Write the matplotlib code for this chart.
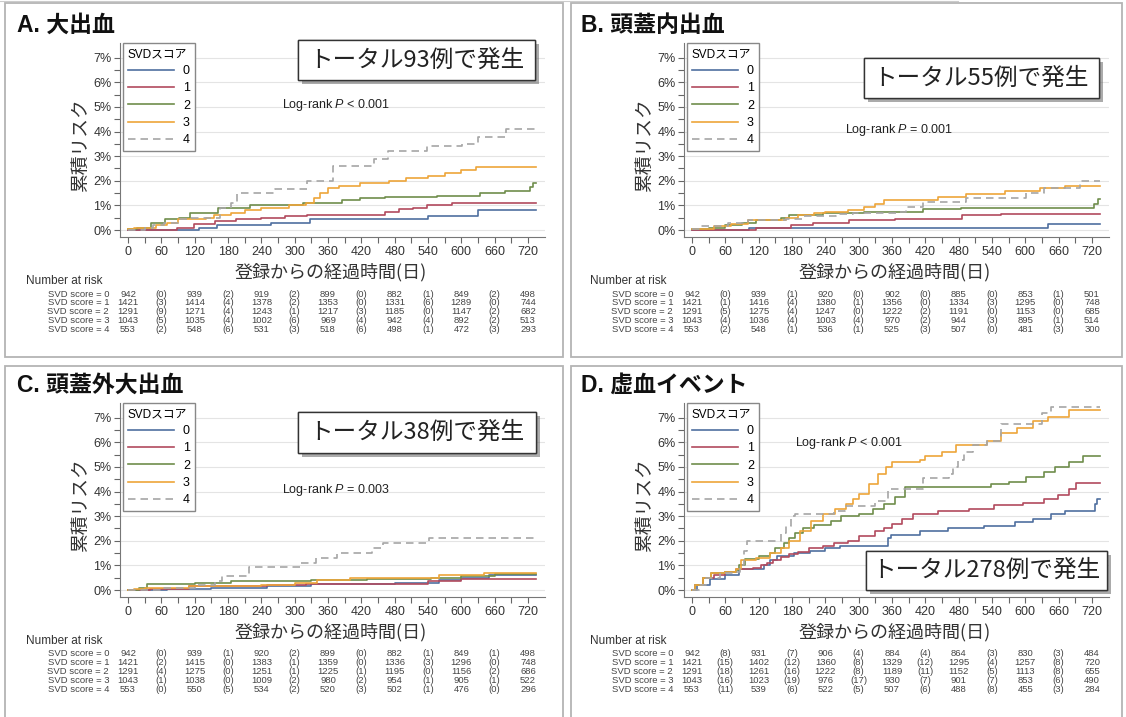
import matplotlib
matplotlib.use('Agg')
from matplotlib import pyplot as plt
from matplotlib import patheffects as pe
from matplotlib.patches import Rectangle
from matplotlib.lines import Line2D
from matplotlib.transforms import blended_transform_factory

plt.rcParams['font.family'] = ['Liberation Sans', 'Noto Sans CJK JP']
plt.rcParams['mathtext.fontset'] = 'custom'
plt.rcParams['mathtext.rm'] = 'Liberation Sans'
plt.rcParams['mathtext.it'] = 'Liberation Sans:italic'

W, H = 1126, 717

scores = ['0', '1', '2', '3', '4']
colors = ['#4f6f9f', '#b24a5e', '#6f8d4c', '#eda53a', '#a6a6a6']
risk_days = [0, 120, 240, 360, 480, 600, 720]
event_days = [60, 180, 300, 420, 540, 660]

# cumulative risk (%) step curves, (day, risk) per SVD score
a_svd0 = [(0, 0), (127, 0.1), (160, 0.2), (258, 0.3), (328, 0.45), (540, 0.55), (630, 0.8), (735, 0.8)]
a_svd1 = [(0, 0), (89, 0.1), (118, 0.25), (156, 0.35), (194, 0.45), (239, 0.5), (283, 0.55), (322, 0.6),
          (462, 0.75), (487, 0.85), (513, 0.9), (538, 1.0), (583, 1.1), (735, 1.1)]
a_svd2 = [(0, 0.05), (16, 0.1), (41, 0.3), (67, 0.45), (92, 0.5), (111, 0.7), (162, 0.9), (220, 1.0),
          (315, 1.1), (385, 1.2), (417, 1.3), (462, 1.35), (557, 1.4), (634, 1.5), (678, 1.6),
          (723, 1.75), (729, 1.9), (735, 1.9)]
a_svd3 = [(0, 0.05), (10, 0.1), (50, 0.2), (70, 0.3), (90, 0.45), (140, 0.5), (155, 0.6), (185, 0.7),
          (210, 0.8), (240, 0.9), (290, 1.0), (320, 1.1), (334, 1.3), (345, 1.5), (360, 1.7),
          (379, 1.8), (417, 1.9), (470, 2.0), (500, 2.1), (540, 2.2), (570, 2.3), (600, 2.45),
          (626, 2.55), (735, 2.55)]
a_svd4 = [(0, 0), (30, 0.1), (45, 0.2), (65, 0.3), (90, 0.45), (110, 0.5), (165, 0.9), (185, 1.1),
          (197, 1.5), (264, 1.65), (322, 2.0), (369, 2.6), (443, 2.9), (468, 3.2), (538, 3.4),
          (602, 3.5), (630, 3.8), (681, 4.1), (735, 4.1)]

b_svd0 = [(0, 0), (102, 0.1), (640, 0.25), (735, 0.25)]
b_svd1 = [(0, 0), (115, 0.1), (179, 0.2), (218, 0.3), (282, 0.4), (365, 0.45), (486, 0.6), (557, 0.65),
          (735, 0.65)]
b_svd2 = [(0, 0.05), (30, 0.1), (60, 0.2), (90, 0.3), (115, 0.4), (160, 0.5), (175, 0.6), (235, 0.7),
          (310, 0.75), (415, 0.85), (485, 0.9), (723, 1.05), (730, 1.25), (735, 1.25)]
b_svd3 = [(0, 0.05), (40, 0.15), (70, 0.25), (100, 0.4), (170, 0.5), (190, 0.6), (220, 0.7), (240, 0.75),
          (280, 0.8), (310, 0.95), (330, 1.05), (345, 1.2), (442, 1.35), (493, 1.45), (563, 1.6),
          (627, 1.7), (672, 1.8), (735, 1.8)]
b_svd4 = [(0, 0.05), (15, 0.15), (65, 0.3), (100, 0.4), (170, 0.45), (200, 0.55), (260, 0.65), (290, 0.7),
          (370, 0.75), (385, 0.95), (416, 1.15), (493, 1.3), (602, 1.5), (634, 1.7), (698, 2.0), (735, 2.0)]

c_svd0 = [(0, 0), (70, 0.05), (150, 0.1), (250, 0.15), (330, 0.25), (480, 0.3), (560, 0.4), (600, 0.5),
          (650, 0.6), (735, 0.6)]
c_svd1 = [(0, 0), (40, 0.05), (110, 0.15), (250, 0.2), (320, 0.25), (540, 0.35), (600, 0.45), (735, 0.45)]
c_svd2 = [(0, 0), (20, 0.1), (35, 0.25), (120, 0.3), (185, 0.35), (330, 0.4), (430, 0.45), (545, 0.5),
          (600, 0.55), (660, 0.65), (735, 0.65)]
c_svd3 = [(0, 0), (10, 0.05), (30, 0.1), (110, 0.15), (240, 0.2), (300, 0.3), (340, 0.4), (400, 0.5),
          (560, 0.6), (640, 0.7), (735, 0.7)]
c_svd4 = [(0, 0), (60, 0.1), (120, 0.2), (156, 0.35), (169, 0.55), (217, 0.95), (309, 1.1), (338, 1.3),
          (376, 1.5), (440, 1.7), (459, 1.9), (541, 2.1), (735, 2.1)]

d_svd0 = [(0, 0), (9, 0.2), (33, 0.45), (60, 0.6), (84, 0.85), (129, 1.0), (140, 1.2), (153, 1.4),
          (183, 1.5), (213, 1.6), (240, 1.7), (267, 1.8), (352, 2.1), (358, 2.25), (410, 2.4),
          (461, 2.5), (525, 2.6), (582, 2.75), (614, 2.9), (646, 3.1), (672, 3.2), (725, 3.5),
          (729, 3.7), (735, 3.7)]
d_svd1 = [(0, 0), (5, 0.2), (20, 0.5), (40, 0.6), (60, 0.75), (80, 0.85), (110, 0.9), (125, 1.0),
          (135, 1.1), (145, 1.2), (160, 1.35), (175, 1.45), (190, 1.55), (210, 1.7), (235, 1.8),
          (255, 1.9), (280, 2.0), (300, 2.2), (330, 2.4), (345, 2.5), (360, 2.7), (378, 2.9),
          (397, 3.1), (442, 3.2), (499, 3.3), (544, 3.45), (595, 3.55), (634, 3.7), (659, 3.85),
          (678, 4.1), (691, 4.35), (735, 4.35)]
d_svd2 = [(0, 0), (5, 0.2), (20, 0.5), (35, 0.7), (60, 0.75), (80, 0.8), (85, 1.0), (95, 1.25),
          (120, 1.4), (140, 1.5), (150, 1.7), (165, 1.9), (175, 2.1), (185, 2.3), (200, 2.5),
          (220, 2.65), (250, 2.8), (269, 3.0), (300, 3.1), (326, 3.3), (345, 3.5), (365, 3.8),
          (384, 4.2), (538, 4.3), (570, 4.4), (602, 4.6), (634, 4.8), (653, 5.0), (678, 5.2),
          (704, 5.45), (735, 5.45)]
d_svd3 = [(0, 0), (5, 0.2), (20, 0.5), (35, 0.7), (60, 0.75), (80, 0.85), (88, 1.2), (115, 1.3),
          (140, 1.5), (160, 1.7), (175, 2.0), (195, 2.4), (215, 2.8), (235, 3.1), (258, 3.3),
          (278, 3.5), (290, 3.7), (300, 3.9), (318, 4.3), (335, 4.7), (350, 5.0), (360, 5.2),
          (410, 5.3), (420, 5.45), (450, 5.6), (475, 5.9), (531, 6.05), (557, 6.4), (585, 6.6),
          (614, 6.85), (640, 7.05), (678, 7.3), (735, 7.3)]
d_svd4 = [(0, 0), (12, 0.2), (25, 0.5), (50, 0.7), (75, 0.75), (87, 1.0), (93, 1.6), (99, 2.0),
          (160, 2.3), (170, 2.6), (178, 3.0), (185, 3.1), (255, 3.2), (275, 3.4), (330, 3.6),
          (352, 4.1), (416, 4.55), (462, 4.7), (470, 5.0), (478, 5.3), (490, 5.6), (506, 5.9),
          (531, 6.05), (557, 6.75), (630, 7.2), (646, 7.45), (735, 7.45)]

# number at risk and events in each interval (rows = SVD score 0..4)
a_at_risk = [[942, 939, 919, 899, 882, 849, 498],
             [1421, 1414, 1378, 1353, 1331, 1289, 744],
             [1291, 1271, 1243, 1217, 1185, 1147, 682],
             [1043, 1035, 1002, 969, 942, 892, 513],
             [553, 548, 531, 518, 498, 472, 293]]
a_events = [[0, 2, 2, 0, 1, 2], [3, 4, 2, 0, 6, 0], [9, 4, 1, 3, 0, 2], [5, 4, 6, 4, 4, 2], [2, 6, 3, 6, 1, 3]]

b_at_risk = [[942, 939, 920, 902, 885, 853, 501],
             [1421, 1416, 1380, 1356, 1334, 1295, 748],
             [1291, 1275, 1247, 1222, 1191, 1153, 685],
             [1043, 1036, 1003, 970, 944, 895, 514],
             [553, 548, 536, 525, 507, 481, 300]]
b_events = [[0, 1, 0, 0, 0, 1], [1, 4, 1, 0, 3, 0], [5, 4, 0, 2, 0, 0], [4, 4, 4, 2, 3, 1], [2, 1, 1, 3, 0, 3]]

c_at_risk = [[942, 939, 920, 899, 882, 849, 498],
             [1421, 1415, 1383, 1359, 1336, 1296, 748],
             [1291, 1275, 1251, 1225, 1195, 1156, 686],
             [1043, 1038, 1009, 980, 954, 905, 522],
             [553, 550, 534, 520, 502, 476, 296]]
c_events = [[0, 1, 2, 0, 1, 1], [2, 0, 1, 0, 3, 0], [4, 0, 1, 1, 0, 2], [1, 0, 2, 2, 1, 1], [0, 5, 2, 3, 1, 0]]

d_at_risk = [[942, 931, 906, 884, 864, 830, 484],
             [1421, 1402, 1360, 1329, 1295, 1257, 720],
             [1291, 1261, 1222, 1189, 1152, 1113, 655],
             [1043, 1023, 976, 930, 901, 853, 490],
             [553, 539, 522, 507, 488, 455, 284]]
d_events = [[8, 7, 4, 4, 3, 3], [15, 12, 8, 12, 4, 8], [18, 16, 8, 11, 5, 8],
            [16, 19, 17, 7, 7, 6], [11, 6, 5, 6, 8, 3]]

titles = ['A. 大出血', 'B. 頭蓋内出血', 'C. 頭蓋外大出血', 'D. 虚血イベント']
totals = ['トータル93例で発生', 'トータル55例で発生', 'トータル38例で発生', 'トータル278例で発生']
logranks = ['Log-rank $P$ < 0.001', 'Log-rank $P$ = 0.001', 'Log-rank $P$ = 0.003', 'Log-rank $P$ < 0.001']

CJK = ['Noto Sans CJK JP', 'DejaVu Sans']
DASH = (0, (4.5, 3))


def fx(x):
    return x / W


def fy(y):
    return 1 - y / H


def draw_panel(fig, ox, oy, title, curves, at_risk, events, logrank, lr_xy, total, box):
    # axes: day 0 at x=128, 0.5556 px/day; 0% at y=230, 24.6 px per %
    ax = fig.add_axes([fx(ox + 120), fy(oy + 237.4), 424.7 / W, 194.4 / H])
    for k, pts in enumerate(curves):
        t = [p[0] for p in pts]
        r = [p[1] for p in pts]
        ax.step(t, r, where='post', color=colors[k], lw=1.2, ls=DASH if k == 4 else '-', zorder=3)
    ax.set_xlim(-14.4, 750)
    ax.set_ylim(-0.3, 7.6)
    ax.set_xticks(range(0, 721, 60))
    ax.set_xticks(range(30, 721, 60), minor=True)
    ax.set_yticks(range(0, 8))
    ax.set_yticklabels([f'{i}%' for i in range(8)])
    ax.set_yticks([i + 0.5 for i in range(0, 7)], minor=True)
    ax.tick_params(which='both', direction='out', length=4, width=0.8, color='#666',
                   labelsize=9, labelcolor='#333', pad=2)
    for s in ['top', 'right']:
        ax.spines[s].set_visible(False)
    for s in ['left', 'bottom']:
        ax.spines[s].set_color('#777')
        ax.spines[s].set_linewidth(0.8)
    ax.yaxis.grid(True, color='#e4e4e4', lw=0.8)
    ax.set_axisbelow(True)
    ax.patch.set_alpha(0)

    handles = [Line2D([], [], color=colors[k], lw=1.2, ls=DASH if k == 4 else '-') for k in range(5)]
    leg = ax.legend(handles, scores, title='SVDスコア', loc='upper left', bbox_to_anchor=(0.007, 1.0),
                    borderaxespad=0, fancybox=False, edgecolor='#888', framealpha=1, fontsize=9,
                    title_fontsize=8.5, handlelength=3.7, handletextpad=0.7, labelspacing=0.42,
                    borderpad=0.4, alignment='left')
    leg.get_frame().set_linewidth(1.0)

    ax.text(lr_xy[0], lr_xy[1], logrank, fontsize=9, color='#222', va='center', ha='left')

    # headline box with drop shadow
    bx, by, bw, bh = box
    rect = Rectangle((fx(ox + bx), fy(oy + by + bh)), bw / W, bh / H, transform=fig.transFigure,
                     fc='white', ec='#333', lw=1.0, zorder=5,
                     path_effects=[pe.withSimplePatchShadow(offset=(3, -3), shadow_rgbFace='#666', alpha=0.55),
                                   pe.Normal()])
    fig.add_artist(rect)
    fig.text(fx(ox + bx + bw / 2), fy(oy + by + bh / 2), total, fontsize=17, family=CJK,
             color='#222', ha='center', va='center', zorder=6)

    fig.text(fx(ox + 17), fy(oy + 25), title, fontsize=16.5, fontweight='bold', va='center', color='#111')
    fig.text(fx(ox + 80), fy(oy + 145), '累積リスク', fontsize=13.5, family=CJK, rotation=90,
             ha='center', va='center', color='#333')

    tr = blended_transform_factory(ax.transData, fig.transFigure)
    ax.text(365, fy(oy + 272), '登録からの経過時間(日)', transform=tr, fontsize=13, family=CJK,
            ha='center', va='center', color='#333', clip_on=False)
    fig.text(fx(ox + 26), fy(oy + 281), 'Number at risk', fontsize=8.5, color='#333', va='center')
    for i in range(5):
        y = fy(oy + 294 + 8.9 * i)
        ax.text(-34, y, f'SVD score = {scores[i]}', transform=tr, fontsize=6.8, color='#444',
                ha='right', va='center', clip_on=False)
        for d, n in zip(risk_days, at_risk[i]):
            ax.text(d, y, str(n), transform=tr, fontsize=6.8, color='#444', ha='center', va='center',
                    clip_on=False)
        for d, e in zip(event_days, events[i]):
            ax.text(d, y, f'({e})', transform=tr, fontsize=6.8, color='#444', ha='center', va='center',
                    clip_on=False)
    return ax


fig = plt.figure(figsize=(W / 100, H / 100), dpi=100)

# panel frames
for x0, y0, x1, y1 in [(5, 3, 563, 357), (571, 3, 1122, 357), (5, 366, 563, 722), (571, 366, 1122, 722)]:
    fig.add_artist(Rectangle((fx(x0), fy(y1)), (x1 - x0) / W, (y1 - y0) / H, transform=fig.transFigure,
                             fc='none', ec='#b4b4b4', lw=1.3))
fig.add_artist(Line2D([0, fx(958)], [fy(1), fy(1)], transform=fig.transFigure, color='#cccccc', lw=0.8))

draw_panel(fig, 0, 0, titles[0], [a_svd0, a_svd1, a_svd2, a_svd3, a_svd4], a_at_risk, a_events,
           logranks[0], (277, 5.1), totals[0], (298, 40, 237, 40))
draw_panel(fig, 564, 0, titles[1], [b_svd0, b_svd1, b_svd2, b_svd3, b_svd4], b_at_risk, b_events,
           logranks[1], (275, 4.05), totals[1], (300, 58, 235, 40))
draw_panel(fig, 0, 360, titles[2], [c_svd0, c_svd1, c_svd2, c_svd3, c_svd4], c_at_risk, c_events,
           logranks[2], (277, 4.05), totals[2], (298, 52, 238, 41))
draw_panel(fig, 564, 360, titles[3], [d_svd0, d_svd1, d_svd2, d_svd3, d_svd4], d_at_risk, d_events,
           logranks[3], (186, 5.97), totals[3], (302, 191, 241, 39))

fig.savefig('out.png', dpi=100)
